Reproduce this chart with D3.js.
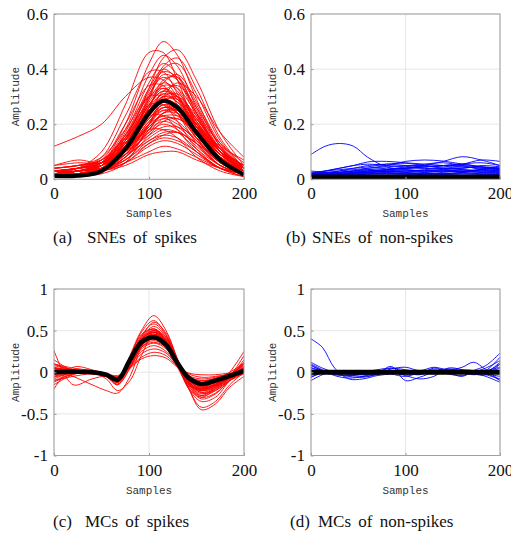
<!DOCTYPE html>
<html><head><meta charset="utf-8">
<script src="https://cdn.jsdelivr.net/npm/d3@7"></script>
<style>
html,body{margin:0;padding:0;background:#fff;}
svg{display:block;}
</style></head>
<body>
<svg id="chart" width="511" height="537"></svg>
<script>
// ---------- data ----------
const xTicks = [0, 100, 200];
const xTickLabels = ["0", "100", "200"];
const yTicksSNE = [0, 0.2, 0.4, 0.6];
const yTickLabelsSNE = ["0", "0.2", "0.4", "0.6"];
const yTicksMC = [-1, -0.5, 0, 0.5, 1];
const yTickLabelsMC = ["-1", "-0.5", "0", "0.5", "1"];
const captions = ["(a)", "SNEs of spikes", "(b)", "SNEs of non-spikes", "(c)", "MCs of spikes", "(d)", "MCs of non-spikes"];

// (a) SNEs of spikes
const samplesA = [0, 25, 50, 75, 100, 115, 130, 150, 175, 200];
const sneSpikes = [
  [0.12,0.155,0.2,0.3,0.37,0.36,0.3,0.2,0.09,0.04],
  [0.02,0.03,0.06,0.2,0.42,0.5,0.45,0.29,0.12,0.03],
  [0.02,0.02,0.04,0.14,0.33,0.44,0.47,0.36,0.17,0.05],
  [0.02,0.04,0.1,0.27,0.46,0.46,0.36,0.19,0.07,0.02],
  [0.03,0.03,0.06,0.18,0.38,0.45,0.41,0.26,0.11,0.03],
  [0.01,0.02,0.04,0.12,0.3,0.41,0.44,0.33,0.15,0.04],
  [0.02,0.03,0.05,0.17,0.35,0.42,0.38,0.24,0.1,0.03],
  [0.03,0.04,0.08,0.23,0.39,0.39,0.31,0.17,0.06,0.02],
  [0.01,0.02,0.05,0.16,0.33,0.4,0.36,0.23,0.1,0.02],
  [0.02,0.02,0.03,0.11,0.26,0.35,0.38,0.28,0.13,0.04],
  [0.02,0.03,0.05,0.15,0.31,0.37,0.33,0.21,0.09,0.03],
  [0.03,0.04,0.07,0.2,0.34,0.34,0.27,0.15,0.05,0.02],
  [0.01,0.02,0.04,0.14,0.29,0.35,0.32,0.2,0.08,0.02],
  [0.02,0.02,0.03,0.1,0.23,0.32,0.34,0.26,0.12,0.04],
  [0.02,0.03,0.05,0.13,0.27,0.33,0.3,0.19,0.08,0.03],
  [0.04,0.05,0.08,0.18,0.3,0.3,0.24,0.13,0.05,0.02],
  [0.01,0.02,0.04,0.12,0.26,0.31,0.28,0.18,0.07,0.02],
  [0.02,0.02,0.03,0.09,0.2,0.28,0.3,0.23,0.11,0.03],
  [0.02,0.03,0.04,0.12,0.24,0.29,0.26,0.17,0.07,0.02],
  [0.03,0.04,0.06,0.16,0.27,0.27,0.21,0.11,0.04,0.01],
  [0.01,0.02,0.04,0.11,0.22,0.27,0.24,0.16,0.07,0.02],
  [0.02,0.02,0.03,0.08,0.18,0.24,0.26,0.2,0.1,0.04],
  [0.02,0.03,0.04,0.1,0.21,0.25,0.23,0.15,0.06,0.02],
  [0.03,0.04,0.06,0.14,0.23,0.23,0.18,0.1,0.04,0.02],
  [0.01,0.02,0.03,0.09,0.19,0.23,0.21,0.14,0.06,0.02],
  [0.02,0.02,0.03,0.07,0.16,0.21,0.22,0.17,0.08,0.03],
  [0.02,0.03,0.04,0.09,0.18,0.21,0.19,0.13,0.05,0.02],
  [0.01,0.02,0.03,0.08,0.17,0.2,0.18,0.12,0.05,0.02],
  [0.03,0.04,0.05,0.11,0.18,0.18,0.15,0.08,0.03,0.01],
  [0.01,0.02,0.03,0.08,0.15,0.18,0.17,0.11,0.05,0.02],
  [0.02,0.02,0.03,0.06,0.13,0.16,0.17,0.13,0.06,0.02],
  [0.02,0.03,0.04,0.07,0.14,0.16,0.15,0.1,0.04,0.02],
  [0.01,0.02,0.03,0.07,0.13,0.15,0.14,0.1,0.04,0.01],
  [0.02,0.02,0.03,0.06,0.12,0.14,0.13,0.09,0.04,0.02],
  [0.01,0.02,0.03,0.06,0.1,0.12,0.11,0.08,0.04,0.02],
  [0.01,0.02,0.03,0.05,0.09,0.1,0.1,0.07,0.04,0.02],
  [0.05,0.06,0.06,0.12,0.25,0.3,0.28,0.2,0.1,0.05],
  [0.04,0.05,0.07,0.16,0.3,0.33,0.29,0.19,0.12,0.07],
  [0.01,0.01,0.02,0.06,0.2,0.3,0.35,0.3,0.17,0.08],
  [0.02,0.03,0.05,0.13,0.28,0.34,0.33,0.24,0.13,0.06],
  [0.02,0.02,0.04,0.12,0.27,0.32,0.29,0.19,0.08,0.02],
  [0.01,0.02,0.04,0.13,0.25,0.29,0.27,0.18,0.08,0.03],
  [0.02,0.03,0.06,0.15,0.26,0.28,0.24,0.15,0.06,0.02],
  [0.01,0.02,0.03,0.1,0.23,0.3,0.31,0.22,0.1,0.03],
  [0.03,0.03,0.05,0.14,0.3,0.38,0.36,0.24,0.1,0.03],
  [0.02,0.02,0.04,0.12,0.29,0.4,0.42,0.31,0.14,0.04],
  [0.02,0.03,0.05,0.1,0.19,0.24,0.24,0.18,0.09,0.03],
  [0.03,0.04,0.06,0.12,0.22,0.26,0.25,0.18,0.08,0.03],
  [0.01,0.02,0.04,0.1,0.2,0.25,0.25,0.19,0.09,0.04],
  [0.02,0.03,0.05,0.12,0.22,0.27,0.26,0.19,0.09,0.03],
  [0.04,0.05,0.07,0.13,0.23,0.28,0.27,0.2,0.1,0.04],
  [0.02,0.03,0.04,0.09,0.17,0.22,0.22,0.17,0.09,0.04],
  [0.03,0.04,0.06,0.11,0.19,0.22,0.2,0.14,0.07,0.03],
  [0.02,0.02,0.04,0.1,0.21,0.26,0.24,0.16,0.07,0.02],
  [0.01,0.02,0.03,0.08,0.18,0.24,0.25,0.2,0.11,0.05],
  [0.03,0.03,0.05,0.12,0.25,0.31,0.3,0.22,0.11,0.04],
  [0.02,0.03,0.06,0.14,0.27,0.32,0.3,0.21,0.1,0.03],
  [0.02,0.04,0.07,0.15,0.25,0.28,0.26,0.18,0.09,0.04],
  [0.04,0.05,0.06,0.1,0.16,0.19,0.19,0.15,0.08,0.04],
  [0.03,0.04,0.05,0.09,0.14,0.17,0.17,0.13,0.07,0.03],
  [0.02,0.03,0.05,0.12,0.26,0.36,0.37,0.27,0.12,0.04],
  [0.01,0.02,0.05,0.15,0.32,0.39,0.37,0.25,0.1,0.03],
  [0.03,0.04,0.06,0.13,0.24,0.3,0.29,0.22,0.11,0.05],
  [0.02,0.03,0.04,0.11,0.24,0.29,0.29,0.21,0.1,0.03],
  [0.05,0.07,0.06,0.1,0.2,0.26,0.26,0.19,0.1,0.05],
  [0.01,0.02,0.04,0.1,0.2,0.23,0.23,0.18,0.1,0.05]
];
const sneSpikesMean = [0.012,0.013,0.03,0.11,0.24,0.285,0.26,0.17,0.07,0.017];

// (b) SNEs of non-spikes
const samplesB = [0, 15, 30, 45, 60, 80, 100, 120, 140, 160, 180, 200];
const sneNonSpikes = [
  [0.09,0.12,0.13,0.12,0.08,0.045,0.035,0.03,0.03,0.025,0.02,0.02],
  [0.02,0.03,0.04,0.05,0.063,0.065,0.06,0.055,0.05,0.045,0.04,0.035],
  [0.015,0.02,0.025,0.03,0.04,0.05,0.065,0.07,0.066,0.055,0.045,0.035],
  [0.02,0.02,0.025,0.03,0.03,0.035,0.04,0.05,0.065,0.082,0.07,0.05],
  [0.01,0.015,0.02,0.025,0.03,0.035,0.04,0.045,0.05,0.055,0.07,0.065],
  [0.025,0.03,0.035,0.04,0.045,0.055,0.058,0.05,0.04,0.04,0.05,0.045],
  [0.02,0.025,0.03,0.035,0.04,0.045,0.05,0.05,0.045,0.055,0.06,0.05],
  [0.015,0.02,0.025,0.03,0.035,0.04,0.04,0.045,0.05,0.05,0.045,0.04],
  [0.02,0.025,0.025,0.03,0.035,0.03,0.03,0.035,0.04,0.045,0.04,0.035],
  [0.01,0.015,0.02,0.025,0.03,0.035,0.04,0.04,0.035,0.03,0.035,0.04],
  [0.025,0.02,0.02,0.025,0.03,0.03,0.025,0.03,0.035,0.04,0.045,0.04],
  [0.01,0.015,0.02,0.02,0.025,0.03,0.035,0.03,0.03,0.035,0.03,0.03],
  [0.02,0.02,0.02,0.02,0.025,0.025,0.02,0.025,0.03,0.03,0.025,0.025],
  [0.01,0.01,0.015,0.02,0.02,0.025,0.025,0.02,0.02,0.025,0.03,0.03],
  [0.015,0.015,0.015,0.015,0.02,0.02,0.02,0.02,0.02,0.02,0.02,0.02],
  [0.01,0.012,0.012,0.015,0.015,0.015,0.015,0.018,0.02,0.02,0.018,0.015],
  [0.02,0.03,0.04,0.05,0.055,0.05,0.045,0.04,0.04,0.035,0.03,0.03],
  [0.01,0.02,0.03,0.04,0.05,0.055,0.05,0.045,0.05,0.055,0.045,0.035],
  [0.03,0.025,0.02,0.02,0.025,0.035,0.045,0.055,0.06,0.05,0.035,0.025],
  [0.005,0.01,0.015,0.02,0.025,0.03,0.03,0.025,0.02,0.025,0.035,0.045],
  [0.02,0.018,0.015,0.015,0.018,0.02,0.022,0.02,0.018,0.015,0.015,0.018],
  [0.012,0.015,0.02,0.022,0.025,0.028,0.03,0.032,0.03,0.028,0.025,0.022],
  [0.018,0.02,0.022,0.025,0.022,0.02,0.018,0.02,0.025,0.03,0.035,0.03]
];
const sneNonSpikesMean = [0.008,0.008,0.008,0.008,0.008,0.008,0.008,0.008,0.008,0.008,0.008,0.008];

// (c) MCs of spikes
const samplesC = [0, 20, 40, 55, 67, 80, 92, 105, 118, 130, 142, 155, 170, 185, 200];
const mcSpikes = [
  [0.26,-0.15,-0.08,-0.05,-0.12,0.1,0.4,0.55,0.42,0.1,-0.2,-0.3,-0.2,-0.05,0.2],
  [-0.2,0.06,0.03,-0.03,-0.12,0.12,0.42,0.52,0.38,0.1,-0.18,-0.28,-0.18,0.0,0.25],
  [0.1,0.02,0.02,-0.05,-0.15,0.2,0.5,0.68,0.5,0.15,-0.2,-0.35,-0.3,-0.1,0.05],
  [0.05,0.0,0.0,-0.04,-0.1,0.18,0.48,0.62,0.45,0.15,-0.2,-0.42,-0.35,-0.15,0.0],
  [-0.1,-0.02,0.0,-0.03,-0.08,0.15,0.44,0.58,0.44,0.12,-0.2,-0.45,-0.38,-0.18,-0.05],
  [0.0,0.02,0.01,-0.02,-0.08,0.12,0.38,0.5,0.38,0.12,-0.12,-0.22,-0.18,-0.08,0.02],
  [0.05,0.03,0.0,-0.05,-0.12,0.1,0.35,0.46,0.36,0.1,-0.1,-0.2,-0.14,-0.06,0.05],
  [-0.05,0.0,0.02,-0.02,-0.1,0.14,0.36,0.44,0.34,0.12,-0.08,-0.15,-0.1,-0.02,0.08],
  [0.0,0.01,0.0,-0.04,-0.1,0.12,0.33,0.4,0.3,0.09,-0.08,-0.14,-0.12,-0.05,0.0],
  [0.08,0.03,0.01,-0.03,-0.09,0.1,0.3,0.38,0.3,0.1,-0.06,-0.12,-0.09,-0.03,0.04],
  [-0.08,0.0,0.0,-0.03,-0.08,0.1,0.28,0.35,0.28,0.08,-0.06,-0.1,-0.08,-0.04,0.01],
  [0.02,0.02,0.0,-0.02,-0.06,0.08,0.25,0.32,0.25,0.08,-0.05,-0.1,-0.07,-0.02,0.03],
  [0.0,0.0,0.0,-0.03,-0.07,0.06,0.22,0.28,0.23,0.08,-0.04,-0.08,-0.06,-0.02,0.0],
  [0.03,0.01,0.0,-0.02,-0.05,0.06,0.18,0.24,0.2,0.07,-0.02,-0.06,-0.05,-0.02,0.02],
  [-0.03,0.0,0.0,-0.02,-0.04,0.05,0.16,0.2,0.17,0.06,-0.01,-0.03,-0.03,-0.01,0.0],
  [0.0,0.02,0.0,-0.08,-0.22,-0.1,0.2,0.45,0.35,0.1,-0.1,-0.18,-0.12,-0.05,0.06],
  [0.02,-0.05,-0.15,-0.22,-0.25,-0.05,0.3,0.48,0.38,0.12,-0.12,-0.2,-0.15,-0.05,0.1],
  [-0.1,-0.05,-0.02,-0.05,-0.15,0.05,0.32,0.5,0.42,0.15,-0.12,-0.28,-0.22,-0.08,0.05],
  [0.1,0.05,0.02,-0.02,-0.08,0.18,0.45,0.52,0.36,0.08,-0.15,-0.2,-0.1,0.0,0.1],
  [0.0,0.0,-0.01,-0.04,-0.1,0.14,0.4,0.48,0.36,0.12,-0.14,-0.26,-0.2,-0.1,-0.02],
  [0.05,0.02,0.02,-0.02,-0.07,0.12,0.34,0.42,0.34,0.14,-0.06,-0.18,-0.16,-0.08,0.02],
  [-0.05,0.02,0.01,-0.03,-0.08,0.1,0.32,0.4,0.33,0.14,-0.04,-0.14,-0.13,-0.06,0.12],
  [0.03,0.02,0.01,-0.03,-0.1,0.16,0.42,0.6,0.47,0.16,-0.16,-0.32,-0.26,-0.1,0.03],
  [0.15,0.02,0.0,-0.04,-0.1,0.12,0.38,0.48,0.36,0.1,-0.12,-0.24,-0.2,-0.06,0.15],
  [-0.15,-0.03,0.01,-0.02,-0.06,0.1,0.3,0.36,0.3,0.12,-0.05,-0.16,-0.14,-0.05,0.06],
  [0.0,0.01,0.01,-0.03,-0.12,0.08,0.36,0.45,0.34,0.06,-0.16,-0.22,-0.16,-0.06,0.0],
  [0.02,0.0,-0.02,-0.05,-0.12,0.08,0.35,0.48,0.4,0.14,-0.1,-0.24,-0.18,-0.06,0.08],
  [-0.02,0.01,0.0,-0.04,-0.1,0.1,0.38,0.52,0.4,0.12,-0.14,-0.3,-0.25,-0.1,0.0],
  [0.04,0.02,0.0,-0.03,-0.09,0.11,0.34,0.44,0.35,0.13,-0.09,-0.2,-0.16,-0.05,0.06],
  [-0.06,-0.01,0.0,-0.04,-0.11,0.09,0.32,0.43,0.35,0.12,-0.1,-0.19,-0.15,-0.06,0.03],
  [0.06,0.02,0.01,-0.02,-0.08,0.14,0.4,0.5,0.37,0.1,-0.12,-0.22,-0.17,-0.04,0.1],
  [0.0,0.0,0.0,-0.05,-0.14,0.05,0.3,0.4,0.32,0.11,-0.08,-0.17,-0.15,-0.07,-0.02],
  [0.1,0.03,0.0,-0.03,-0.09,0.12,0.36,0.46,0.37,0.14,-0.11,-0.25,-0.22,-0.1,0.0],
  [-0.12,-0.02,0.01,-0.03,-0.1,0.13,0.39,0.48,0.35,0.09,-0.13,-0.21,-0.15,-0.03,0.12]
];
const mcSpikesMean = [0.0,0.005,0.0,-0.03,-0.09,0.15,0.36,0.42,0.33,0.11,-0.07,-0.14,-0.1,-0.045,0.02];

// (d) MCs of non-spikes
const samplesD = [0, 12, 25, 40, 55, 70, 85, 100, 115, 130, 145, 160, 172, 185, 200];
const mcNonSpikes = [
  [0.4,0.3,0.05,-0.08,-0.08,-0.04,-0.02,0.0,0.01,0.0,0.0,0.0,0.01,0.0,0.0],
  [0.05,0.02,-0.02,-0.05,-0.06,-0.02,0.07,-0.1,-0.06,0.0,0.02,0.0,-0.03,0.0,0.1],
  [-0.06,0.0,0.02,0.0,-0.03,-0.02,0.04,0.06,0.02,0.06,0.03,0.06,0.12,0.03,-0.1],
  [0.1,0.03,-0.04,-0.07,-0.05,0.0,0.05,0.0,-0.03,0.05,0.0,-0.05,0.02,0.08,0.23],
  [-0.02,0.02,0.01,-0.03,-0.05,-0.03,0.0,-0.04,-0.08,-0.05,0.05,0.03,-0.02,0.02,0.18],
  [0.08,0.02,-0.01,-0.04,-0.02,0.01,-0.02,-0.05,0.0,0.03,-0.02,-0.04,0.0,0.05,0.14],
  [-0.1,-0.03,0.01,0.0,-0.02,0.0,0.02,0.0,-0.02,0.0,0.01,0.0,0.0,-0.03,-0.08],
  [0.06,0.0,-0.03,-0.04,0.0,0.03,0.05,0.03,0.0,-0.02,0.0,0.03,0.02,0.0,0.05],
  [0.03,0.01,0.0,0.0,0.01,0.02,0.0,-0.03,-0.02,0.02,0.04,0.02,-0.02,-0.03,0.1],
  [-0.04,0.0,0.0,-0.01,0.0,0.0,0.01,0.0,0.0,0.0,-0.01,0.0,0.0,0.02,0.06],
  [0.09,0.02,0.0,0.0,0.0,0.0,-0.01,0.0,0.01,0.0,0.0,0.0,0.0,-0.02,-0.05],
  [-0.06,-0.01,0.0,0.0,0.0,0.0,0.0,0.0,0.0,0.0,0.0,0.0,0.01,0.0,0.12],
  [0.02,0.0,0.0,0.0,0.0,0.0,0.0,0.0,0.0,0.0,0.0,0.0,0.0,-0.01,-0.1],
  [0.12,0.05,0.0,-0.02,-0.03,0.0,0.02,0.01,0.0,0.01,0.02,0.0,-0.01,-0.05,-0.12]
];
const mcNonSpikesMean = [0,0,0,0,0,0,0,0,0,0,0,0,0,0,0];

// ---------- drawing ----------
const svg = d3.select("#chart");
const serif = "Liberation Serif, Times New Roman, DejaVu Serif, serif";
const mono = "Liberation Mono, DejaVu Sans Mono, monospace";

const panels = [
  {id:"a", xr:[54,244], yr:[179.3,14], dom:[0,0.6], yt:yTicksSNE, ytl:yTickLabelsSNE,
   xs:samplesA, curves:sneSpikes, mean:sneSpikesMean, color:"#ff0000", mw:4.2, cap:[captions[0],captions[1]], capX:[53,87], capY:243},
  {id:"b", xr:[311,500], yr:[179.3,14], dom:[0,0.6], yt:yTicksSNE, ytl:yTickLabelsSNE,
   xs:samplesB, curves:sneNonSpikes, mean:sneNonSpikesMean, color:"#0000ff", mw:5, cap:[captions[2],captions[3]], capX:[286,312], capY:243},
  {id:"c", xr:[54,244], yr:[455.5,289], dom:[-1,1], yt:yTicksMC, ytl:yTickLabelsMC,
   xs:samplesC, curves:mcSpikes, mean:mcSpikesMean, color:"#ff0000", mw:4.5, cap:[captions[4],captions[5]], capX:[53,85], capY:527},
  {id:"d", xr:[311,500], yr:[455.5,289], dom:[-1,1], yt:yTicksMC, ytl:yTickLabelsMC,
   xs:samplesD, curves:mcNonSpikes, mean:mcNonSpikesMean, color:"#0000ff", mw:5, cap:[captions[6],captions[7]], capX:[290,318], capY:527}
];

panels.forEach(p => {
  const x = d3.scaleLinear().domain([0,200]).range(p.xr);
  const y = d3.scaleLinear().domain(p.dom).range(p.yr);
  const g = svg.append("g");
  const w = p.xr[1]-p.xr[0], h = p.yr[0]-p.yr[1];

  // grid
  g.append("g").selectAll("line").data(xTicks).join("line")
    .attr("x1", d=>x(d)).attr("x2", d=>x(d)).attr("y1", p.yr[0]).attr("y2", p.yr[1])
    .attr("stroke", "#e6e6e6").attr("stroke-width", 1);
  g.append("g").selectAll("line").data(p.yt).join("line")
    .attr("y1", d=>y(d)).attr("y2", d=>y(d)).attr("x1", p.xr[0]).attr("x2", p.xr[1])
    .attr("stroke", "#e6e6e6").attr("stroke-width", 1);

  // clip
  g.append("clipPath").attr("id", "clip-"+p.id).append("rect")
    .attr("x", p.xr[0]).attr("y", p.yr[1]).attr("width", w).attr("height", h);

  const line = d3.line().x((d,i)=>x(p.xs[i])).y(d=>y(d)).curve(d3.curveCatmullRom.alpha(0.5));
  const cg = g.append("g").attr("clip-path", "url(#clip-"+p.id+")");
  cg.selectAll("path.c").data(p.curves).join("path").attr("class","c")
    .attr("d", line).attr("fill","none").attr("stroke", p.color).attr("stroke-width", 0.9);
  cg.append("path").datum(p.mean).attr("d", line).attr("fill","none")
    .attr("stroke","#000").attr("stroke-width", p.mw).attr("stroke-linejoin","round");

  // axes (box)
  const axL = d3.axisLeft(y).tickValues(p.yt).tickFormat((d,i)=>p.ytl[i]).tickSizeInner(-2.5).tickSizeOuter(0).tickPadding(6);
  const axB = d3.axisBottom(x).tickValues(xTicks).tickFormat((d,i)=>xTickLabels[i]).tickSizeInner(-2.5).tickSizeOuter(0).tickPadding(8);
  const gl = g.append("g").attr("transform", `translate(${p.xr[0]},0)`).call(axL);
  const gb = g.append("g").attr("transform", `translate(0,${p.yr[0]})`).call(axB);
  [gl, gb].forEach(a => {
    a.attr("font-family", serif).attr("font-size", 17);
    a.select(".domain").remove();
    a.selectAll(".tick line").attr("stroke", "#9a9a9a");
    a.selectAll("text").attr("fill", "#111").attr("font-family", serif).attr("font-size", 17);
  });
  gb.selectAll("text").attr("dy", null).attr("y", 20);
  g.append("rect").attr("x", p.xr[0]).attr("y", p.yr[1]).attr("width", w).attr("height", h)
    .attr("fill","none").attr("stroke","#a0a0a0").attr("stroke-width",1);

  // axis labels
  g.append("text").attr("x", (p.xr[0]+p.xr[1])/2).attr("y", p.yr[0]+38)
    .attr("text-anchor","middle").attr("font-family", mono).attr("font-size",11).attr("fill","#333").text("Samples");
  g.append("text").attr("transform", `translate(${p.xr[0]-35},${(p.yr[0]+p.yr[1])/2}) rotate(-90)`)
    .attr("text-anchor","middle").attr("font-family", mono).attr("font-size",11).attr("fill","#333").text("Amplitude");

  // caption
  g.append("text").attr("x", p.capX[0]).attr("y", p.capY).attr("font-family", serif).attr("font-size",17).attr("fill","#111").text(p.cap[0]);
  g.append("text").attr("x", p.capX[1]).attr("y", p.capY).attr("font-family", serif).attr("font-size",17)
    .attr("word-spacing", 3).style("word-spacing","3px").attr("fill","#111").text(p.cap[1]);
});
</script>
</body></html>
